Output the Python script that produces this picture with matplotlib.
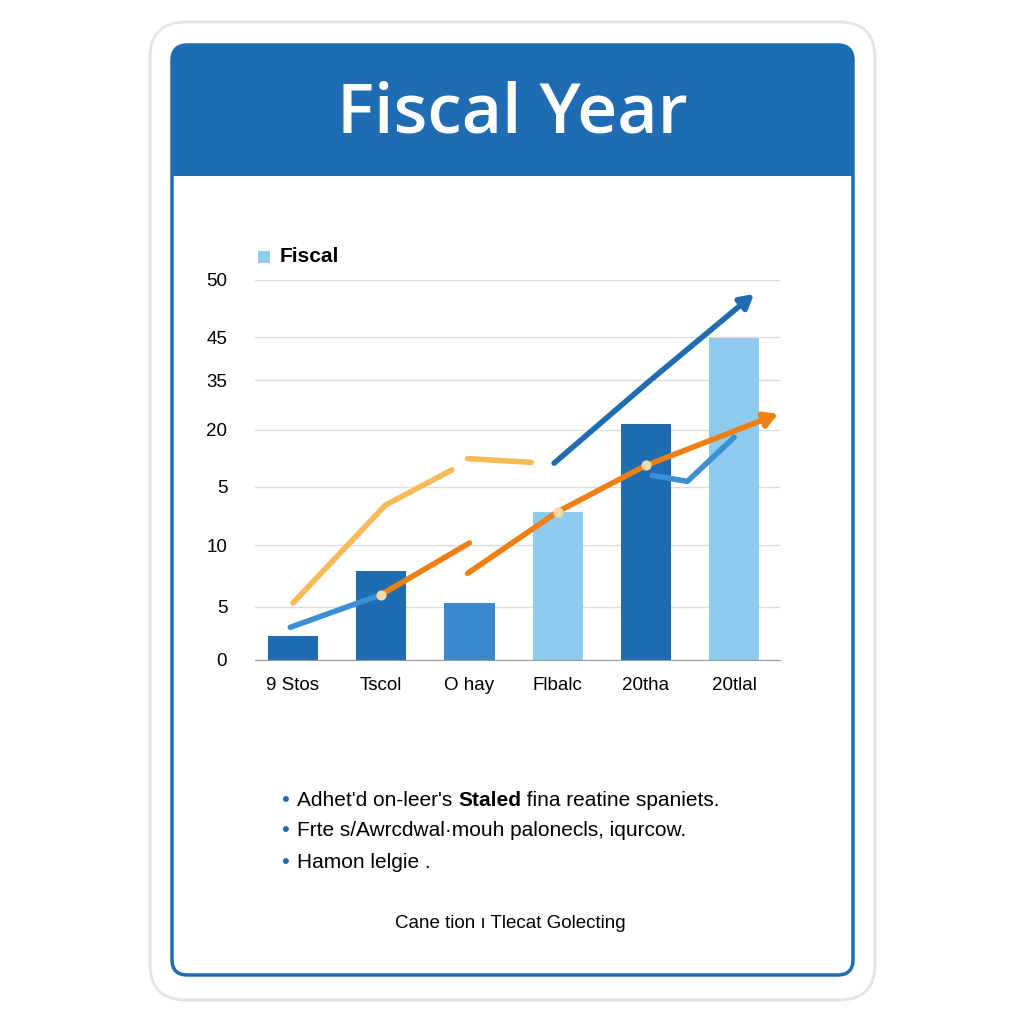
import matplotlib.pyplot as plt
from matplotlib.patches import FancyBboxPatch, Rectangle

plt.rcParams['font.family'] = ['Liberation Sans', 'DejaVu Sans']

categories = ["9 Stos", "Tscol", "O hay", "Flbalc", "20tha", "20tlal"]
bar_values = [3.2, 11.7, 7.5, 19.5, 31.0, 42.4]
bar_colors = ["#1f6cb3", "#1f6cb3", "#3b88cc", "#8ecbef", "#1f6cb3", "#8ecbef"]
tick_pos = [0, 7.0, 15.1, 22.8, 30.3, 36.8, 42.5, 50]
tick_labels = ["0", "5", "10", "5", "20", "35", "45", "50"]

# line segments (x in category units, y in data units)
light_orange_a = ([0, 1.05, 1.8], [7.5, 20.4, 25.0])
light_orange_b = ([1.98, 2.7], [26.5, 26.0])
light_blue_a = ([-0.03, 1.0], [4.3, 8.6])
orange_a = ([1.0, 2.0], [8.6, 15.4])
orange_b = ([1.98, 3.0, 4.0, 5.53], [11.4, 19.5, 25.6, 32.5])
dark_blue = ([2.96, 4.05, 5.25], [25.9, 36.8, 48.4])
light_blue_b = ([4.07, 4.47, 5.0], [24.3, 23.5, 29.3])

fig = plt.figure(figsize=(10.24, 10.24), dpi=100)
W = H = 1024.0

def fx(px): return px / W
def fy(py): return 1 - py / H

def add_patch(p):
    p.set_zorder(-5)
    fig.patches.append(p)

add_patch(FancyBboxPatch((fx(150), fy(1000)), fx(725), (1000 - 22) / H,
                         boxstyle="round,pad=0,rounding_size=0.035",
                         transform=fig.transFigure, fc="white", ec="#e4e4e4", lw=2))
add_patch(FancyBboxPatch((fx(172), fy(975)), fx(681), (975 - 45) / H,
                         boxstyle="round,pad=0,rounding_size=0.015",
                         transform=fig.transFigure, fc="white", ec="#1f6cb3", lw=2.5))
add_patch(FancyBboxPatch((fx(172), fy(176)), fx(681), (176 - 45) / H,
                         boxstyle="round,pad=0,rounding_size=0.015",
                         transform=fig.transFigure, fc="#1f6cb3", ec="none"))
add_patch(Rectangle((fx(172), fy(176)), fx(681), 40 / H,
                    transform=fig.transFigure, fc="#1f6cb3", ec="none"))
fig.text(0.5, fy(115), "Fiscal Year", ha="center", va="center", color="white",
         fontsize=50, fontweight="semibold", family="Open Sans")

ax = fig.add_axes([fx(255), fy(660), fx(780 - 255), (660 - 280) / H])
ax.patch.set_alpha(0)
x = list(range(len(categories)))
ax.bar(x, bar_values, width=0.57, color=bar_colors, zorder=2)
ax.set_xlim(-0.43, 5.52)
ax.set_ylim(0, 50)
ax.set_yticks(tick_pos)
ax.set_yticklabels(tick_labels)
ax.set_xticks(x)
ax.set_xticklabels(categories)
ax.tick_params(axis="y", length=0, labelsize=13.5, pad=20)
ax.tick_params(axis="x", length=0, labelsize=13.5, pad=12)
for t in tick_pos:
    ax.axhline(t, color="#dddddd", lw=1, zorder=0)
for s in ["top", "right", "left"]:
    ax.spines[s].set_visible(False)
ax.spines["bottom"].set_color("#999999")

ax.plot(*light_orange_a, color="#f8b957", lw=4, solid_capstyle="round", zorder=3)
ax.plot(*light_orange_b, color="#f8b957", lw=4, solid_capstyle="round", zorder=3)
ax.plot(*light_blue_a, color="#3b8fd6", lw=4, solid_capstyle="round", zorder=3)
ax.plot(*orange_a, color="#f07f12", lw=4, solid_capstyle="round", zorder=3)
ax.plot(orange_b[0][:-1], orange_b[1][:-1], color="#f07f12", lw=4, solid_capstyle="round", zorder=3)
ax.annotate("", xy=(orange_b[0][-1], orange_b[1][-1]), xytext=(orange_b[0][-2], orange_b[1][-2]),
            arrowprops=dict(arrowstyle="-|>,head_length=0.8,head_width=0.45", color="#f07f12", lw=4),
            annotation_clip=False, zorder=3)
ax.plot(dark_blue[0][:-1], dark_blue[1][:-1], color="#1f6cb3", lw=4, solid_capstyle="round", zorder=3)
ax.annotate("", xy=(dark_blue[0][-1], dark_blue[1][-1]), xytext=(dark_blue[0][-2], dark_blue[1][-2]),
            arrowprops=dict(arrowstyle="-|>,head_length=0.8,head_width=0.45", color="#1f6cb3", lw=4),
            annotation_clip=False, zorder=3)
ax.plot(*light_blue_b, color="#3b8fd6", lw=4, solid_capstyle="round", zorder=3)
ax.scatter([1.0, 3.0, 4.0], [8.6, 19.5, 25.6], s=40, color="#f5d9a8", zorder=4)

fig.patches.append(Rectangle((fx(258), fy(263)), 12 / W, 12 / H, transform=fig.transFigure,
                             fc="#8ecbef", ec="none"))
fig.text(fx(280), fy(257), "Fiscal", fontsize=15, fontweight="bold", va="center")

bullets = [["Adhet'd on-leer's ", "Staled", " fina reatine spaniets."],
           ["Frte s/Awrcdwal·mouh palonecls, iqurcow."],
           ["Hamon lelgie ."]]
for i, parts in enumerate(bullets):
    y = fy(800 + 31 * i)
    fig.text(fx(285), y, "•", fontsize=16, color="#1f6cb3", ha="center", va="center")
    xp = fx(297)
    for p in parts:
        t = fig.text(xp, y, p, fontsize=15, va="center",
                     fontweight="bold" if p == "Staled" else "normal")
        fig.canvas.draw()
        xp += t.get_window_extent().width / W
fig.text(fx(510), fy(923), "Cane tion ı Tlecat Golecting", fontsize=13.5, ha="center", va="center")

fig.savefig("out.png", dpi=100, facecolor="white")
